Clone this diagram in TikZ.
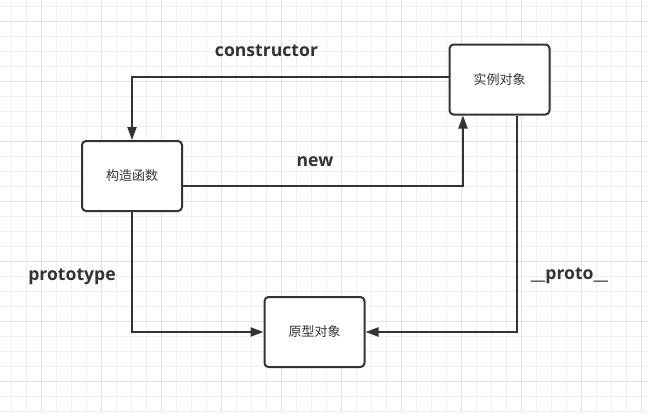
\documentclass[tikz,border=0pt]{standalone}
\usepackage{fontspec}
\setmainfont{Open Sans}
\newfontfamily\cjk{Noto Sans CJK SC}
\usetikzlibrary{arrows.meta}
\definecolor{ink}{HTML}{333333}
\definecolor{gridminor}{HTML}{F0F0F0}
\definecolor{gridmajor}{HTML}{E2E2E2}
\begin{document}
\begin{tikzpicture}[x=1pt,y=-1pt,
  box/.style={draw=ink, line width=2pt, rounded corners=4pt, fill=white,
    minimum width=100pt, minimum height=70pt, inner sep=0pt,
    font=\cjk\fontsize{13}{15}\selectfont, text=ink},
  link/.style={draw=ink, line width=2pt, -{Triangle[length=13pt,width=9pt]}},
  lbl/.style={font=\bfseries\fontsize{17.6}{20}\selectfont, text=ink, inner sep=0pt, anchor=base}]
\fill[white] (0,0) rectangle (648,413);
\useasboundingbox (0,0) rectangle (648,413);
\foreach \x in {11.7,26.7,...,648} \draw[gridminor, line width=1pt] (\x,0) -- (\x,413);
\foreach \y in {6.7,21.7,...,413} \draw[gridminor, line width=1pt] (0,\y) -- (648,\y);
\foreach \x in {41.7,101.7,...,648} \draw[gridmajor, line width=1pt] (\x,0) -- (\x,413);
\foreach \y in {21.7,81.7,...,413} \draw[gridmajor, line width=1pt] (0,\y) -- (648,\y);

\node[box] (ctor) at (132,176) {构造函数};
\node[box] (inst) at (499.5,79.5) {实例对象};
\node[box] (proto) at (314.5,332) {原型对象};

\draw[link] ([yshift=2.5pt]inst.west) -| (ctor.north);
\draw[link] ([yshift=-10pt]ctor.east) -| ([xshift=-36.5pt]inst.south);
\draw[link] (ctor.south) |- (proto.west);
\draw[link] ([xshift=17pt]inst.south) |- (proto.east);

\node[lbl] (lc) at (266.5,56.7) {constructor};
\node[lbl] (ln) at (315,166.7) {new};
\node[lbl] (lp) at (72,280) {prototype};
\node[lbl] (lq) at (569.5,279.3) {\_\_proto\_\_};
\end{tikzpicture}
\end{document}
